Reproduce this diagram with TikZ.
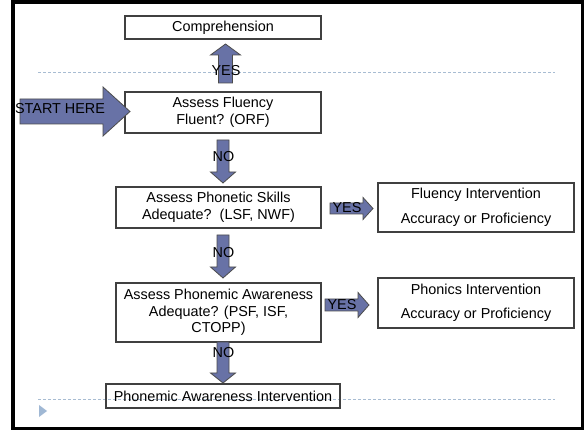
\documentclass[tikz,border=0pt]{standalone}
\usepackage{fontspec}
\setmainfont{Liberation Sans}
\usetikzlibrary{calc}
\definecolor{arrfill}{RGB}{104,114,166}
\definecolor{dashcol}{RGB}{168,188,210}
\definecolor{tricol}{RGB}{160,184,212}
\newcommand\blockarrow[5]{% start, tip, shaft half, head half, head length
  \coordinate (hb) at ($(#2)!#5!(#1)$);
  \draw[arrowshape] ($(#1)!#3!90:(#2)$) -- ($(hb)!#3!-90:(#1)$) -- ($(hb)!#4!-90:(#1)$) -- (#2)
    -- ($(hb)!#4!90:(#1)$) -- ($(hb)!#3!90:(#1)$) -- ($(#1)!#3!-90:(#2)$) -- cycle;
}
\begin{document}
\begin{tikzpicture}[x=1pt,y=-1pt,
  box/.style={draw=black!75,line width=1.1pt,rectangle,inner sep=0pt,align=center,
    font=\fontsize{14.4}{16.5}\selectfont},
  arrowshape/.style={fill=arrfill,draw=black!70,line width=0.8pt,line join=miter},
  lbl/.style={inner sep=0pt,font=\fontsize{14.4}{16.5}\selectfont},
  sep/.style={draw=dashcol,line width=1pt,dash pattern=on 3pt off 2pt}]
\useasboundingbox (0,0) rectangle (584,430);
\fill[white] (0,0) rectangle (584,430);
% separator lines
\coordinate (d1a) at (38,73); \coordinate (d1b) at (555,73);
\coordinate (d2a) at (38,400); \coordinate (d2b) at (555,400);
\draw[sep] (d1a) -- (d1b);
\draw[sep] (d2a) -- (d2b);
\fill[tricol] (39,405) -- (47,411) -- (39,417) -- cycle;
% boxes
\node[box,minimum width=196pt,minimum height=23pt] (comp) at (223,27.5) {Comprehension};
\node[box,minimum width=196pt,minimum height=41pt] (flu) at (223,112.5) {Assess Fluency\\Fluent? (ORF)};
\node[box,minimum width=205pt,minimum height=41pt] (phon) at (218.5,207.5) {Assess Phonetic Skills\\Adequate?\ \ (LSF, NWF)};
\node[box,minimum width=205pt,minimum height=59pt] (pa) at (218.5,312.5) {Assess Phonemic Awareness\\Adequate? (PSF, ISF,\\CTOPP)};
\node[box,minimum width=234pt,minimum height=24pt] (pai) at (223,396) {Phonemic Awareness Intervention};
\node[box,minimum width=196pt,minimum height=49pt] (fi) at (476,207.5) {Fluency Intervention\\[9pt]Accuracy or Proficiency};
\node[box,minimum width=196pt,minimum height=50pt] (pi) at (476,303) {Phonics Intervention\\[8pt]Accuracy or Proficiency};
% arrows
\coordinate (upS) at (225.5,83); \coordinate (upT) at (225.5,44);
\blockarrow{upS}{upT}{7pt}{15pt}{11pt}
\coordinate (stS) at (20,111.5); \coordinate (stT) at (130,111.5);
\blockarrow{stS}{stT}{12.5pt}{24.5pt}{27pt}
\coordinate (n1S) at (223,140); \coordinate (n1T) at (223,183);
\blockarrow{n1S}{n1T}{6pt}{12.5pt}{11pt}
\coordinate (n2S) at (223,235); \coordinate (n2T) at (223,278);
\blockarrow{n2S}{n2T}{6pt}{12.5pt}{11pt}
\coordinate (n3S) at (223,342); \coordinate (n3T) at (223,383);
\blockarrow{n3S}{n3T}{6pt}{12.5pt}{10pt}
\coordinate (y1S) at (330,208.5); \coordinate (y1T) at (373,208.5);
\blockarrow{y1S}{y1T}{5.5pt}{11pt}{10pt}
\coordinate (y2S) at (325,305); \coordinate (y2T) at (369,305);
\blockarrow{y2S}{y2T}{6pt}{12.5pt}{11pt}
% labels
\node[lbl] (lyes0) at (226,71) {YES};
\node[lbl] (lstart) at (60,109) {START HERE};
\node[lbl] (lno1) at (223.5,157) {NO};
\node[lbl] (lno2) at (223.5,253) {NO};
\node[lbl] (lno3) at (223.5,353) {NO};
\node[lbl] (lyes1) at (347,208) {YES};
\node[lbl] (lyes2) at (342,305) {YES};
% frame
\draw[line width=3.6pt] (13,2) rectangle (582.3,428.3);
\end{tikzpicture}
\end{document}
